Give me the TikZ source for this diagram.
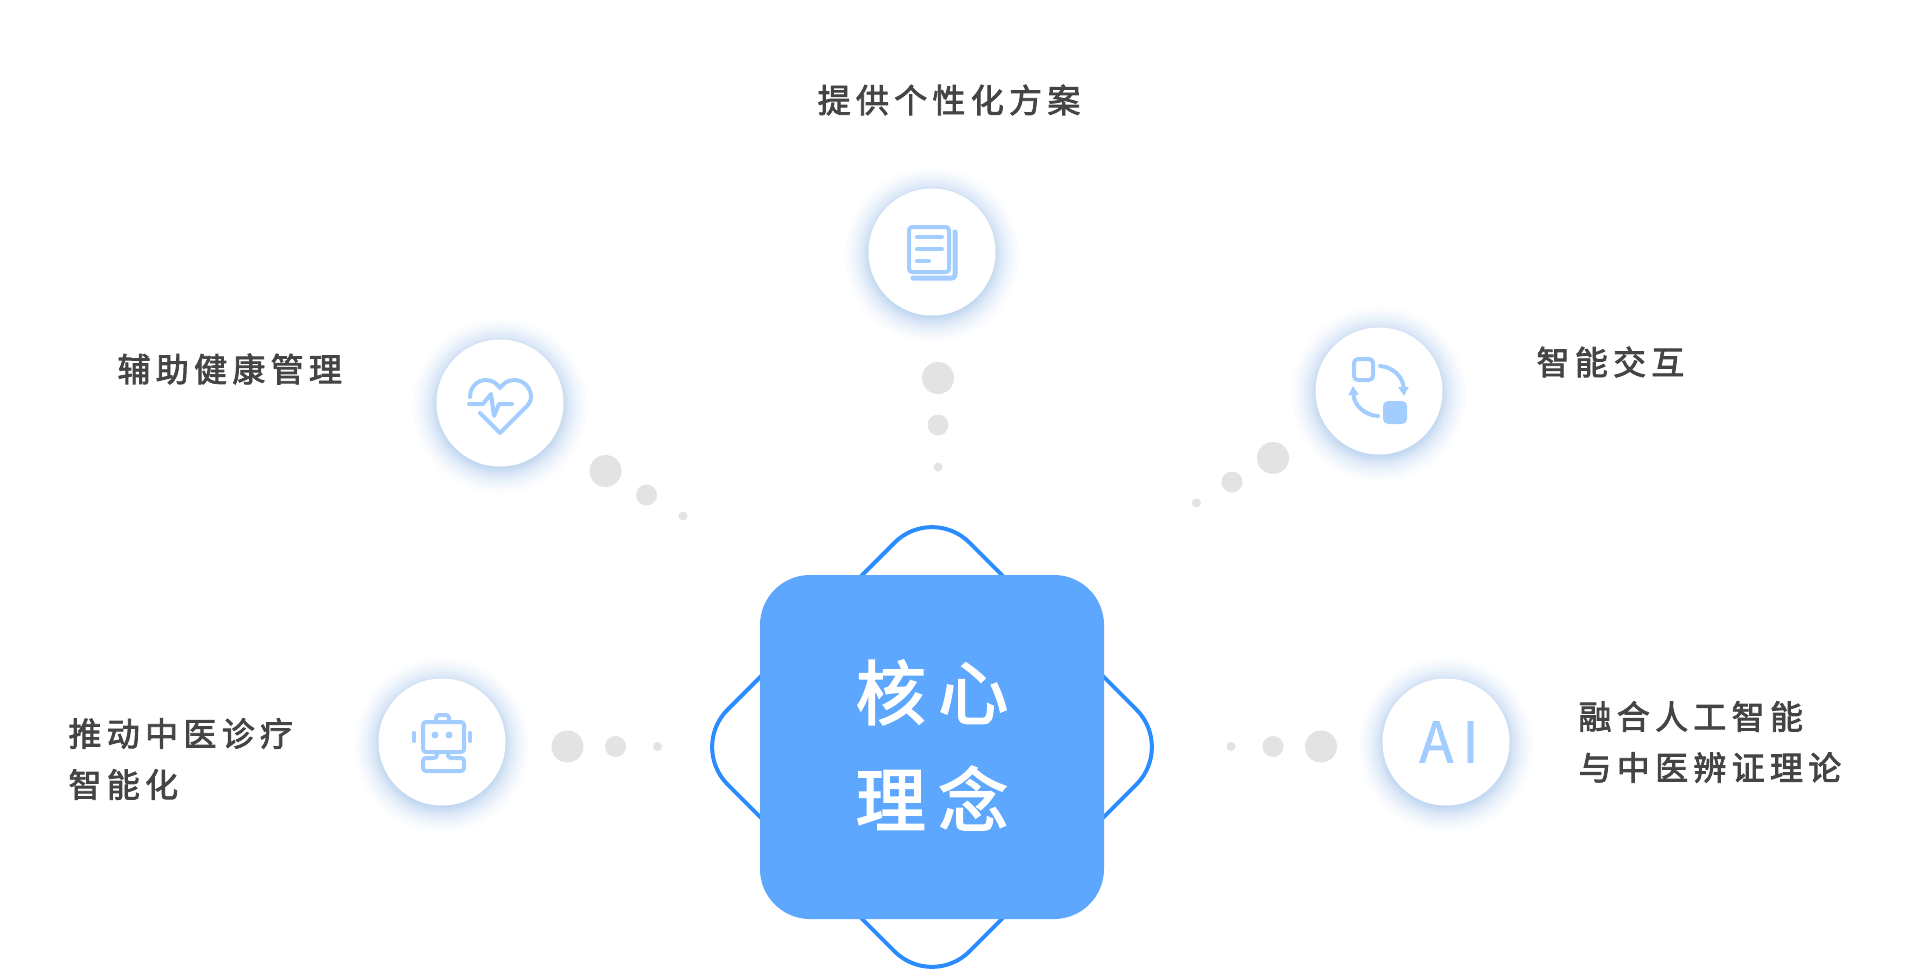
\documentclass[tikz,border=0pt]{standalone}
\usepackage{fontspec}
\setmainfont{Noto Sans CJK SC}
\newfontfamily\labelfont[LetterSpace=16, FakeBold=2.5]{Noto Sans CJK SC}
\newfontfamily\corefont[LetterSpace=18, FakeBold=2.5]{Noto Sans CJK SC}
\newfontfamily\aifont[LetterSpace=16, FakeBold=1.2]{Noto Sans CJK SC}
\usetikzlibrary{arrows.meta}
\definecolor{coreblue}{HTML}{5EA7FF}
\definecolor{ringblue}{HTML}{2B8CFF}
\definecolor{iconblue}{HTML}{A3CDFF}
\definecolor{glowblue}{HTML}{6DA6EE}
\definecolor{dotgray}{HTML}{E3E3E3}
\definecolor{textgray}{HTML}{444444}
\tikzset{
  corebox/.style = {fill=coreblue, rounded corners=50, minimum size=344, inner sep=0},
  coretag/.style = {align=center, text=white, font=\corefont\fontsize{70}{107}\selectfont},
  ringbox/.style = {draw=ringblue, line width=4, rounded corners=53, minimum size=342, inner sep=0, rotate=45},
  disc/.style = {circle, fill=white, minimum size=127, inner sep=0},
  label/.style = {anchor=west, align=left, text=textgray, font=\labelfont\fontsize{33}{51}\selectfont},
  icon/.style = {draw=iconblue, line width=4, line cap=round, line join=round},
  iconfill/.style = {fill=iconblue},
}
\begin{document}
\begin{tikzpicture}[x=1pt, y=-1pt]
      \useasboundingbox (0, 0) rectangle (1924, 979);
      \fill [white] (0, 0) rectangle (1924, 979);
      \node [ringbox] (ring) at (932, 747) {};
      \node [corebox] (core) at (932, 747) {};
      \node [coretag] (coretext) at (932, 745) {核心\\理念};
      \foreach \px/\py in {932/252, 500/403, 1379/391, 442/742, 1446/742} {
        \foreach \grow in {1, 2, 3, 4, 5, 6, 7, 8, 10, 12, 14, 16, 19, 22, 26} {
          \fill [glowblue, opacity=0.03] (\px, \py + 3) circle (61 + \grow);
        }
      }
      \node [disc] (plan) at (932, 252) {};
      \node [disc] (health) at (500, 403) {};
      \node [disc] (talk) at (1379, 391) {};
      \node [disc] (robot) at (442, 742) {};
      \node [disc] (ai) at (1446, 742) {};
      \node [text=iconblue, font=\aifont\fontsize{56}{56}\selectfont] (aitag) at (1449, 742) {AI};
      \foreach \px/\py/\rad in {938/378/16, 938/425/10.5, 938/467/4.5,
          605.5/471/16, 646.5/495/10.5, 683/516/4.5,
          1273/458/16, 1232/482/10.5, 1196.5/503/4.5,
          567.5/746.5/16, 615.5/746.5/10.5, 657.5/746.5/4.5,
          1321/746.5/16, 1273/746.5/10.5, 1231/746.5/4.5} {
        \fill [dotgray] (\px, \py) circle (\rad);
      }
      \node [label, anchor=center] (plantext) at (949, 100) {提供个性化方案};
      \node [label] (healthtext) at (114, 369) {辅助健康管理};
      \node [label] (talktext) at (1533, 362) {智能交互};
      \node [label] (robottext) at (65, 759) {推动中医诊疗\\智能化};
      \node [label] (aitext) at (1575, 742) {融合人工智能\\与中医辨证理论};
      \draw [icon, rounded corners=3] (909, 227) rectangle (949, 272);
      \draw [icon] (917, 237) -- (942, 237);
      \draw [icon] (917, 249) -- (942, 249);
      \draw [icon] (917, 261) -- (929, 261);
      \draw [icon, line width=5, rounded corners=3] (955, 232) -- (955, 278) -- (913, 278);
      \draw [icon] (470, 397) .. controls (470, 386) and (478, 380) .. (486, 380)
        .. controls (492, 380) and (496, 383) .. (500, 388)
        .. controls (504, 383) and (508, 380) .. (514, 380)
        .. controls (524, 380) and (531, 388) .. (531, 397)
        .. controls (531, 401) and (529, 404) .. (526, 407) -- (500, 433) -- (480, 413);
      \draw [icon] (469, 404) -- (483, 404) -- (491, 394) -- (494, 416) -- (499, 404) -- (512, 404);
      \draw [icon, rounded corners=4] (1354, 359) rectangle (1373, 380);
      \fill [iconfill, rounded corners=5] (1383, 401) rectangle (1407, 424);
      \draw [icon, -{Triangle[length=9, width=10]}] (1380, 366) .. controls (1393, 367) and (1403, 377) .. (1404, 396);
      \draw [icon, -{Triangle[length=9, width=10]}] (1378, 416) .. controls (1364, 415) and (1354, 405) .. (1353, 386);
      \draw [icon, rounded corners=3] (423, 722) rectangle (464, 752);
      \draw [icon, rounded corners=3] (436, 721) -- (436, 715) -- (449, 715) -- (449, 721);
      \fill [iconfill] (435, 735) circle (3.5);
      \fill [iconfill] (449, 735) circle (3.5);
      \draw [icon] (414, 733) -- (414, 741);
      \draw [icon] (470, 733) -- (470, 741);
      \draw [icon, rounded corners=3] (437, 752) -- (437, 758) -- (423, 758) -- (423, 771) -- (464, 771) -- (464, 758) -- (448, 758) -- (448, 752);
    \end{tikzpicture}
\end{document}
